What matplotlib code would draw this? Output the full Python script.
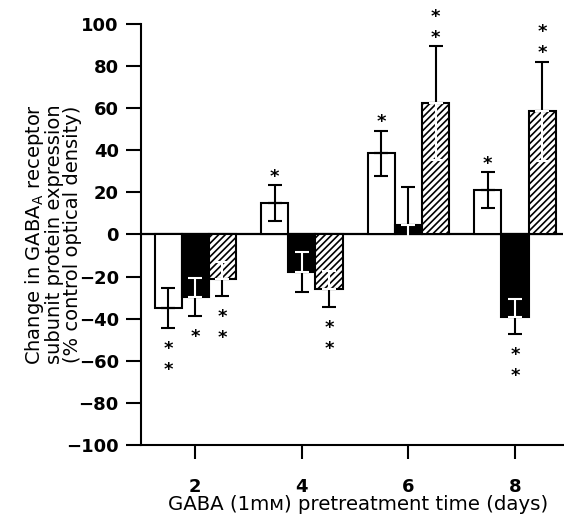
import matplotlib.pyplot as plt
import numpy as np

plt.rcParams['font.family'] = ['DejaVu Sans']
plt.rcParams['hatch.linewidth'] = 1.2

days = [2, 4, 6, 8]
# three subunit series (white, black, hatched)
white_vals = [-35, 15, 38.5, 21]
white_err = [9.5, 8.5, 10.8, 8.6]
black_vals = [-29.5, -18, 4.5, -39]
black_err = [9, 9.5, 17.9, 8.4]
hatch_vals = [-21, -26, 62.5, 58.5]
hatch_err = [8, 8.5, 27, 23.6]
# number of significance stars per bar
white_stars = [2, 1, 1, 1]
black_stars = [1, 0, 0, 2]
hatch_stars = [2, 2, 2, 2]

x = np.array(days, dtype=float)
w = 0.51

fig = plt.figure(figsize=(5.64, 5.26), dpi=100)
ax = fig.add_axes([0.2500, 0.154, 0.748, 0.8004])

ax.axhline(0, color='black', lw=1.6, zorder=1)

series = [
    (x - w, white_vals, white_err, white_stars, 'white', None, False),
    (x, black_vals, black_err, black_stars, 'black', None, True),
    (x + w, hatch_vals, hatch_err, hatch_stars, 'white', '/////', True),
]

for xs, vals, errs, stars, fc, hatch, inner_white in series:
    ax.bar(xs, vals, width=w, color=fc, edgecolor='black', linewidth=1.5,
           hatch=hatch, zorder=2)
    vals = np.array(vals)
    errs = np.array(errs)
    sign = np.sign(vals)
    # outer half of error bar (away from zero) in black
    lower_out = np.where(sign < 0, errs, 0)
    upper_out = np.where(sign > 0, errs, 0)
    ax.errorbar(xs, vals, yerr=[lower_out, upper_out], fmt='none',
                ecolor='black', elinewidth=1.5, capsize=5, capthick=1.5,
                zorder=3)
    # inner half (towards zero)
    ic = 'white' if inner_white else 'black'
    ax.errorbar(xs, vals, yerr=[upper_out, lower_out], fmt='none',
                ecolor=ic, elinewidth=1.5, capsize=5, capthick=1.5,
                zorder=3)
    for xi, v, e, n in zip(xs, vals, errs, stars):
        s = 1 if v > 0 else -1
        for k in range(n):
            y = v + s * (e + 7 + 10 * k)
            ax.text(xi, y - 3.0, '*', ha='center', va='center',
                    fontsize=13, fontweight='bold', zorder=4)

ax.set_xlim(0.98, 8.9)
ax.set_ylim(-100, 100)
ax.set_yticks(np.arange(-100, 101, 20))
ax.set_yticklabels(['\u2212100', '\u221280', '\u221260', '\u221240', '\u221220',
                    '0', '20', '40', '60', '80', '100'])
ax.set_xticks(days)
for lab in ax.get_xticklabels() + ax.get_yticklabels():
    lab.set_fontweight('bold')
    lab.set_fontsize(13)

ax.spines['top'].set_visible(False)
ax.spines['right'].set_visible(False)
ax.spines['left'].set_linewidth(1.5)
ax.spines['bottom'].set_linewidth(1.5)
ax.tick_params(axis='y', length=11, width=1.5, pad=5)
ax.tick_params(axis='x', length=10, width=1.5, pad=14)

ax.set_ylabel('Change in GABA$_\\mathregular{A}$ receptor\nsubunit protein expression\n(% control optical density)',
              fontsize=14, linespacing=0.92)
ax.yaxis.set_label_coords(-0.14, 0.5)
ax.set_xlabel('GABA (1m\u1d0d) pretreatment time (days)', fontsize=14.2)
ax.xaxis.set_label_coords(0.514, -0.118)

fig.savefig('out.png', dpi=100)
